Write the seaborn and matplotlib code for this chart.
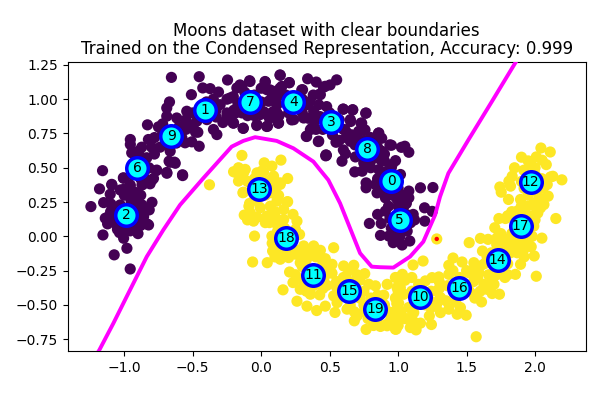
import matplotlib
matplotlib.use("Agg")
import matplotlib.pyplot as plt
import seaborn as sns
import pandas as pd

moon0_points = [
(-0.656,1.159),(-0.453,1.164),(-0.246,1.140),(0.139,1.174),(-0.085,1.135),(0.03,1.125),(0.205,1.12),(0.339,1.149),(0.402,1.125),(0.468,1.094),
(-0.427,1.082),(-0.373,1.077),(-0.51,1.033),(-0.312,1.052),(-0.178,1.082),(-0.141,1.094),(-0.227,1.009),(0.042,1.069),(0.09,1.057),(0.151,1.094),
(0.302,1.069),(0.432,1.033),(-0.670,0.980),(-0.69,0.936),(-0.544,0.912),(-0.30,0.96),(0.054,0.985),(0.115,0.96),(0.334,0.96),(0.383,0.912),
(-0.69,0.876),(-0.617,0.863),(-0.495,0.815),(-0.397,0.851),(-0.251,0.876),(-0.202,0.827),(-0.141,0.90),(-0.007,0.888),(0.115,0.90),(0.237,0.851),
(0.31,0.863),(-0.831,0.813),(-0.751,0.798),(-0.132,0.788),(-0.031,0.815),(0.046,0.803),(0.127,0.827),(-0.349,0.779),(-0.324,0.742),(-0.463,0.759),
(-0.824,0.706),(-0.739,0.650),(-0.556,0.682),(-0.507,0.689),(-0.453,0.657),(-0.665,0.621),(0.329,0.73),(0.42,0.694),(0.359,0.778),(-0.956,0.706),
(-0.956,0.67),(-0.873,0.65),(-0.946,0.609),(-0.836,0.573),(-0.673,0.548),(-0.634,0.541),(0.471,0.587),(-0.763,0.483),(-0.69,0.466),(-0.575,0.449),
(-1.007,0.427),(-0.787,0.422),(-0.865,0.379),(-0.812,0.383),(-1.092,0.379),(-1.007,0.342),(-0.958,0.367),(-0.78,0.72),(-0.72,0.75),(-0.6,0.8),
(-0.58,0.72),(-0.62,0.68),(-0.55,0.85),(-0.45,0.88),(-0.4,0.98),(-0.28,0.83),(-0.88,0.58),(-0.9,0.45),(-0.85,0.48),(-0.82,0.5),
(-0.33,0.87),(-0.47,0.84),(-0.25,1.0),(-0.05,1.03),(-0.02,0.93),(0.18,1.03),(0.27,0.93),(0.39,0.84),
(0.137,1.177),(0.205,1.121),(0.551,1.141),(0.503,1.104),(0.454,1.087),(0.425,1.036),(0.296,1.068),(0.356,0.983),(0.478,0.946),(0.6,0.927),
(0.668,0.922),(0.763,0.898),(0.734,0.825),(0.653,0.837),(0.612,0.776),(0.758,0.776),(0.332,0.728),(0.417,0.691),(0.546,0.686),(0.473,0.594),
(0.661,0.74),(0.856,0.752),(0.88,0.715),(0.369,0.788),(0.344,0.861),(0.43,0.873),(0.6,0.63),(0.685,0.667),(0.94,0.667),(-0.082,1.129),
(-0.155,1.104),(0.028,1.129),(0.064,1.068),(0.137,1.08),(-0.204,0.825),(-0.131,0.788),(-0.033,0.808),(0.04,0.801),(0.125,0.825),(0.222,0.849),
(-0.191,0.898),(0.089,0.91),(0.015,0.91),(0.076,1.007),(-0.204,1.019),(0.45,0.78),(0.52,0.74),(0.57,0.7),
(0.766,0.899),(0.668,0.923),(0.598,0.928),(0.651,0.851),(0.729,0.826),(0.712,0.766),(0.627,0.754),(0.554,0.693),(0.859,0.754),(0.834,0.717),
(0.651,0.693),(0.476,0.591),(0.615,0.603),(0.59,0.548),(0.688,0.579),(0.951,0.664),(1.024,0.649),(1.049,0.657),(1.078,0.613),(0.883,0.62),
(0.871,0.56),(0.981,0.552),(0.956,0.523),(0.749,0.535),(0.683,0.47),(0.737,0.475),(0.859,0.487),(0.92,0.475),(1.017,0.451),(0.766,0.39),
(0.766,0.354),(0.834,0.378),(0.846,0.317),(0.907,0.281),(1.078,0.33),(1.078,0.281),(0.993,0.269),(1.163,0.354),(1.254,0.356),(1.193,0.208),
(1.249,0.182),(1.195,0.111),(1.042,0.22),(0.907,0.184),(1.11,0.16),(1.09,0.099),(0.79,0.094),(0.876,0.094),(1.066,0.038),(0.871,0.007),
(0.932,0.002),(1.012,-0.003),(0.964,-0.046),(1.029,-0.063),(1.085,-0.034),(0.85,0.42),(0.9,0.55),(0.8,0.5),(0.96,0.3),(1.04,0.12),
(0.95,0.06),(1.0,0.04),(1.06,0.24),(0.86,0.58),(0.77,0.6),
(-1.159,0.479),(-1.091,0.375),(-1.181,0.346),(-1.103,0.307),(-1.244,0.217),(-1.151,0.246),(-1.098,0.236),(-0.798,0.248),(-0.818,0.193),(-1.139,0.132),
(-1.122,0.091),(-1.156,0.01),(-1.035,0.027),(-1.005,-0.014),(-0.981,-0.087),(-1.074,-0.135),(-0.957,-0.238),(-0.835,0.091),(-0.823,0.083),(-0.908,0.059),
(-0.957,0.04),(-1.03,0.338),(-0.957,0.375),(-1.005,0.423),(-0.981,0.302),(-0.908,0.266),(-0.871,0.229),(-0.932,0.314),(-1.03,0.229),(-1.079,0.18),
(-0.859,0.144),(-0.896,0.205),(-1.054,0.083),(-0.871,0.375),(-0.798,0.411),(-0.767,0.479),(-0.689,0.46),(-0.574,0.443),(-0.665,0.54),(-0.628,0.533),
(-0.95,0.25),(-0.9,0.13),(-0.88,0.08),(-1.0,0.12),(-0.95,0.1),
(-0.55,0.78),(-0.5,0.9),(-0.48,0.76),(-0.6,0.74),(-0.7,0.7),(-0.72,0.82),(-0.68,0.66),(-0.8,0.65),(-0.78,0.6),(-0.85,0.52),
(-0.92,0.55),(-0.9,0.62),(-0.37,0.95),(-0.35,1.0),(-0.33,0.92),(-0.25,0.9),(-0.2,0.92),(-0.17,0.97),(-0.12,1.05),(-0.1,0.88),
(-0.05,0.88),(0.0,1.08),(0.0,0.98),(0.03,0.9),(0.06,0.86),(0.12,1.02),(0.13,0.88),(0.2,0.9),(0.2,0.98),(0.3,1.0),
(0.3,0.9),(0.38,1.03),(0.4,0.78),(0.42,0.96),(0.5,0.9),(0.52,0.78),(0.57,0.85),(0.6,0.78),(0.62,0.72),(0.7,0.72),
(0.75,0.7),(0.8,0.72),(0.85,0.65),(0.9,0.6),(0.8,0.55),(0.95,0.5),(0.9,0.42),(0.95,0.36),(1.0,0.35),(1.03,0.3),
(0.88,0.33),(0.93,0.22),(1.0,0.22),(1.06,0.16),(0.94,0.13),(0.85,0.16),(0.97,0.0),(1.05,0.1),(1.12,0.12),
(-1.0,0.3),(-0.95,0.2),(-0.88,0.3),(-1.1,0.18),(-1.12,0.14),(-1.08,0.12),(-1.05,0.05),(-1.0,0.05),(-0.9,0.02),(-0.85,0.18),
(-0.92,0.32),(-0.88,0.42),(-0.95,0.45),(-0.85,0.42),
]

moon1_points = [
(-0.141,0.59),(0.022,0.536),(0.144,0.556),(0.078,0.512),(-0.166,0.5),(-0.202,0.471),(-0.117,0.488),(-0.031,0.463),(0.005,0.476),(-0.166,0.403),
(0.09,0.439),(0.193,0.422),(-0.378,0.376),(0.139,0.379),(-0.134,0.318),(0.115,0.306),(0.193,0.253),
(-0.19,0.468),(-0.129,0.463),(0.017,0.468),(0.09,0.426),(0.139,0.39),(-0.129,0.322),(0.127,0.298),(0.078,0.317),(0.188,0.25),
(-0.085,0.24),(0.115,0.257),(0.164,0.196),(0.066,0.22),(-0.007,0.208),(-0.124,0.155),(-0.056,0.111),(-0.08,0.172),(0.042,0.148),(0.103,0.099),
(0.232,0.16),(0.261,0.111),(0.164,0.123),(-0.049,0.002),(0.078,0.002),(0.28,0.014),(0.083,-0.107),(0.139,-0.167),(0.2,-0.155),(-0.063,-0.187),
(0.044,-0.192),(0.207,-0.26),(0.31,-0.07),(0.383,-0.07),(0.432,-0.102),(0.358,-0.119),(0.529,-0.083),(0.285,-0.192),(0.468,-0.163),(0.517,-0.204),
(0.517,-0.269),(0.602,-0.216),(0.676,-0.211),(0.639,-0.252),(0.756,-0.272),(0.232,-0.337),(0.159,-0.39),(0.285,-0.386),(0.48,-0.357),(0.359,-0.422),
(0.427,-0.427),(0.261,-0.473),(0.334,-0.509),(0.405,-0.541),(0.468,-0.509),(0.539,-0.555),(0.554,-0.483),(0.529,-0.434),(0.834,-0.361),(0.785,-0.349),
(0.895,-0.429),(0.627,-0.531),(0.7,-0.58),(0.68,-0.616),(0.766,-0.679),(0.871,-0.657),(0.919,-0.64),(0.985,-0.677),(0.992,-0.373),(0.98,-0.3),
(0.99,-0.49),(0.956,-0.555),(0.13,-0.07),(0.2,-0.1),(0.25,-0.13),(0.3,-0.22),(0.33,-0.36),(0.55,-0.33),(0.6,-0.3),(0.72,-0.32),
(0.72,-0.45),(0.65,-0.5),(0.75,-0.4),(0.78,-0.6),(0.85,-0.6),(0.95,-0.6),(0.9,-0.5),(-0.05,0.42),(0.05,0.4),(0.1,0.18),(-0.03,0.14),
(0.03,0.1),(0.15,0.08),(0.7,-0.28),(0.42,-0.25),(0.46,-0.3),(0.92,-0.35),
(2.043,0.644),(2.111,0.615),(1.901,0.577),(2.009,0.579),(1.967,0.53),(2.052,0.555),(2.082,0.523),(1.918,0.482),(1.833,0.438),(1.809,0.402),
(1.743,0.36),(1.821,0.366),(1.753,0.322),(1.806,0.269),(1.894,0.269),(2.113,0.433),(2.13,0.438),(2.196,0.412),(2.089,0.378),(2.096,0.293),
(2.065,0.232),(2.04,0.208),(1.87,0.184),(1.943,0.22),(1.991,0.244),(1.736,0.13),(1.784,0.13),(1.706,0.063),(2.152,0.13),(1.991,0.075),
(2.05,-0.013),(1.979,0.0),(1.723,-0.01),(1.601,-0.015),(1.657,-0.022),(1.519,-0.046),(1.796,-0.046),(1.972,-0.076),(1.918,-0.095),(1.994,-0.143),
(1.616,-0.107),(1.553,-0.192),(1.894,-0.204),(1.857,-0.277),(2.009,-0.291),(1.401,-0.158),(1.182,-0.18),(1.109,-0.209),(1.467,-0.187),(1.37,-0.211),
(1.031,-0.277),(0.992,-0.301),(1.37,-0.277),(1.297,-0.296),(1.248,-0.301),(1.199,-0.325),(1.516,-0.265),(1.589,-0.265),(1.626,-0.349),(1.687,-0.325),
(1.016,-0.374),(1.041,-0.422),(1.004,-0.488),(1.077,-0.519),(1.114,-0.556),(1.004,-0.58),(0.955,-0.556),(0.943,-0.616),(0.98,-0.677),(1.114,-0.623),
(1.163,-0.633),(1.089,-0.665),(1.131,-0.682),(1.243,-0.643),(1.228,-0.58),(1.309,-0.556),(1.37,-0.531),(1.431,-0.568),(1.497,-0.575),(1.455,-0.519),
(1.309,-0.446),(1.577,-0.422),(1.609,-0.478),(1.687,-0.417),(1.74,-0.422),(1.65,-0.386),(1.57,-0.732),(0.87,-0.531),(0.919,-0.652),(1.845,-0.022),
(1.772,-0.095),(1.87,-0.12),(1.601,-0.216),(1.65,-0.15),(1.72,-0.06),(1.8,-0.2),(1.92,0.18),(1.98,0.15),(2.0,0.22),(1.95,0.3),
(1.9,0.12),(1.85,0.05),(1.66,-0.28),(1.55,-0.33),(1.45,-0.3),(1.3,-0.38),(1.35,-0.47),(1.58,-0.3),(1.25,-0.48),(1.52,-0.4),
(1.05,-0.6),(1.0,-0.65),(1.28,-0.5),(1.8,-0.28),(1.93,-0.03),(2.0,0.45),(1.95,0.45),
(-0.1,0.4),(-0.05,0.3),(0.03,0.3),(0.05,0.36),(0.1,0.36),(-0.09,0.22),(-0.03,0.26),(0.1,0.15),(0.06,0.1),(-0.1,0.12),
(0.17,0.06),(0.12,0.04),(0.25,0.05),(0.22,-0.05),(0.12,-0.03),(0.08,-0.05),(0.15,-0.1),(0.1,-0.15),(0.2,-0.05),(0.25,-0.1),
(0.3,-0.12),(0.33,-0.17),(0.4,-0.15),(0.45,-0.2),(0.5,-0.25),(0.25,-0.28),(0.3,-0.32),(0.45,-0.38),(0.38,-0.36),(0.33,-0.4),
(0.55,-0.37),(0.6,-0.38),(0.65,-0.33),(0.7,-0.4),(0.75,-0.5),(0.68,-0.55),(0.75,-0.55),(0.8,-0.45),(0.85,-0.43),(0.82,-0.65),
(0.93,-0.55),(0.98,-0.45),(1.02,-0.55),(1.07,-0.6),(1.2,-0.5),(1.24,-0.52),(1.24,-0.4),(1.3,-0.33),(1.36,-0.36),(1.4,-0.25),
(1.42,-0.48),(1.5,-0.25),(1.55,-0.25),(1.6,-0.4),(1.56,-0.45),(1.63,-0.2),(1.68,-0.12),(1.72,-0.28),(1.78,-0.3),(1.7,-0.35),
(1.82,-0.12),(1.78,-0.02),(1.85,-0.07),(1.75,0.02),(1.83,0.02),(1.9,-0.04),(1.95,-0.02),(1.92,-0.15),(1.8,0.15),(1.83,0.18),
(1.9,0.22),(2.0,0.12),(2.02,0.17),(2.03,0.28),(2.06,0.35),(1.9,0.4),(2.05,0.42),(2.0,0.5),(1.92,0.35),(2.0,0.33),
(1.85,0.5),(1.95,0.55),(1.28,-0.4),(1.15,-0.35),(1.1,-0.3),(1.1,-0.4),(1.0,-0.4),(1.05,-0.32),
]

centroid_x = [0.951,-0.41,-0.988,0.512,0.234,1.01,-0.907,-0.08,0.775,-0.658,1.163,0.38,1.968,-0.015,1.726,0.644,1.448,1.895,0.183,0.834]
centroid_y = [0.40,0.924,0.153,0.836,0.982,0.116,0.495,0.982,0.64,0.735,-0.444,-0.284,0.393,0.342,-0.175,-0.40,-0.378,0.073,-0.015,-0.531]

boundary_x = [-1.30,-1.182,-1.08,-0.983,-0.836,-0.715,-0.593,-0.423,-0.216,-0.131,-0.045,0.113,0.235,0.381,0.43,0.49,0.576,0.722,0.807,0.868,0.965,1.087,1.184,1.27,1.306,1.367,1.513,1.684,1.854,1.90]
boundary_y = [-1.02,-0.828,-0.634,-0.44,-0.148,0.047,0.229,0.424,0.654,0.696,0.723,0.696,0.642,0.545,0.484,0.411,0.241,-0.123,-0.221,-0.225,-0.228,-0.148,-0.039,0.156,0.289,0.46,0.703,0.982,1.262,1.34]

misclassified_x = [1.282]
misclassified_y = [-0.019]

title_text = "Moons dataset with clear boundaries\nTrained on the Condensed Representation, Accuracy: 0.999"

df = pd.DataFrame(
    [(x, y, 0) for x, y in moon0_points] + [(x, y, 1) for x, y in moon1_points] + [(misclassified_x[0], misclassified_y[0], 1)],
    columns=["x", "y", "label"])
fig = plt.figure(figsize=(6, 4), dpi=100)
ax = fig.add_axes([67.5/600, 1-351/400, (585.7-67.5)/600, (351-62.3)/400])

sns.scatterplot(data=df, x="x", y="y", hue="label", palette=["#440154", "#fde725"], s=65,
                edgecolor="none", linewidth=0, legend=False, ax=ax, zorder=2)
sns.scatterplot(x=misclassified_x, y=misclassified_y, color="red", s=10, edgecolor="none", linewidth=0,
                legend=False, ax=ax, zorder=3)
sns.lineplot(x=boundary_x, y=boundary_y, sort=False, estimator=None, color="magenta", linewidth=2.8, ax=ax, zorder=4)
sns.scatterplot(x=centroid_x, y=centroid_y, color="cyan", edgecolor="blue", linewidth=2.5, s=240,
                legend=False, ax=ax, zorder=5)
for i, (cx, cy) in enumerate(zip(centroid_x, centroid_y)):
    ax.text(cx, cy, str(i), ha="center", va="center", fontsize=10, color="black", zorder=6)

ax.set_xlim(-1.415, 2.37)
ax.set_ylim(-0.836, 1.269)
ax.set_xticks([-1.0, -0.5, 0.0, 0.5, 1.0, 1.5, 2.0])
ax.set_yticks([-0.75, -0.5, -0.25, 0.0, 0.25, 0.5, 0.75, 1.0, 1.25])
ax.set_xlabel("")
ax.set_ylabel("")
ax.set_title(title_text, fontsize=12, linespacing=1.0)
fig.savefig("out.png", dpi=100)
